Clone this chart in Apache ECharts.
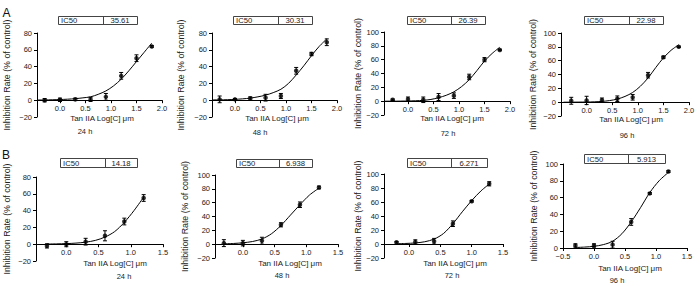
<!DOCTYPE html>
<html>
<head>
<meta charset="utf-8">
<script src="https://cdn.jsdelivr.net/npm/echarts@6/dist/echarts.min.js"></script>
<style>
html,body{margin:0;padding:0;background:#fff;}
#chart{width:700px;height:286px;}
</style>
</head>
<body>
<div id="chart"></div>
<script>
// labels under each panel and the IC50 read-outs
var timeLabels = ['24 h', '48 h', '72 h', '96 h', '24 h', '48 h', '72 h', '96 h'];
var ic50Values = ['35.61', '30.31', '26.39', '22.98', '14.18', '6.938', '6.271', '5.913'];

// log dose of the measured points
var doseA = [-0.3, 0, 0.3, 0.6, 0.9, 1.2, 1.5, 1.8];
var doseB = [-0.3, 0, 0.3, 0.6, 0.9, 1.2];
var doseB72 = [-0.2, 0.1, 0.4, 0.7, 1.0, 1.28];

// mean inhibition rate and SD, row A
var meanA24 = [0, 0.5, 1, 1, 4, 29, 50, 64];
var sdA24 = [2, 2, 1.5, 2.5, 4, 4, 4, 1];
var meanA48 = [1, 1, 2, 3, 5, 35, 55, 69];
var sdA48 = [4, 1, 2, 4, 3, 4, 2, 4];
var meanA72 = [2, 3, 2, 6, 8, 35, 60, 74];
var sdA72 = [1, 3, 4, 5, 4, 4, 3, 1];
var meanA96 = [2, 2.5, 3, 5, 7, 39, 65, 80];
var sdA96 = [5, 6, 3, 4, 4, 4, 1.5, 1];

// row B
var meanB24 = [-2, 0, 3, 10, 27, 55];
var sdB24 = [2.5, 3, 4, 6, 4, 4];
var meanB48 = [1.5, 1.5, 5, 28, 57, 82];
var sdB48 = [5, 4, 5, 3, 4, 2];
var meanB72 = [2.4, 3, 4, 29, 61, 86];
var sdB72 = [1, 3, 4, 4, 1, 3];
var meanB96 = [3, 3, 4, 31, 65, 91];
var sdB96 = [2, 2, 4, 4, 1, 1];

// fitted curves
var fitXA = [-0.45, -0.3, -0.15, 0, 0.15, 0.3, 0.45, 0.6, 0.75, 0.9, 1.05, 1.2, 1.35, 1.5, 1.65, 1.8];
var fitA24 = [0.2, 0.3, 0.5, 0.8, 1.2, 1.8, 2.8, 4, 7, 11, 17, 25, 35, 46, 57, 68];
var fitA48 = [0.3, 0.4, 0.6, 1, 1.6, 2.5, 4, 6, 9, 13, 20, 30, 41, 53, 64, 73];
var fitA72 = [0, 0, 0.1, 0.3, 0.6, 1.2, 2.5, 5, 8.5, 13.5, 21, 31, 44, 58, 69, 78];
var fitA96 = [0, 0, 0.1, 0.2, 0.5, 1.1, 2.3, 4.5, 8.3, 14, 23, 35, 50, 64, 75, 83];
var fitXB = [-0.3, -0.15, 0, 0.15, 0.3, 0.45, 0.6, 0.75, 0.9, 1.05, 1.2];
var fitB24 = [0.2, 0.4, 0.7, 1.3, 2.4, 4.5, 8.5, 15, 26, 40, 56];
var fitB48 = [0.5, 1, 2, 3.8, 7.5, 15, 27, 42, 57, 71, 81];
var fitB96 = [0.6, 1.1, 2, 4, 8, 17, 31, 48, 66, 80, 90];
var fitXB72 = [-0.2, -0.05, 0.1, 0.25, 0.4, 0.55, 0.7, 0.85, 1.0, 1.15, 1.3];
var fitB72 = [0.4, 0.8, 1.5, 3.2, 7, 15, 29, 46, 62, 76, 87];

var panels = [
    {dose: doseA, mean: meanA24, sd: sdA24, fitX: fitXA, fitY: fitA24, xMin: -0.45, xMax: 2, yMin: -20, yMax: 80},
    {dose: doseA, mean: meanA48, sd: sdA48, fitX: fitXA, fitY: fitA48, xMin: -0.45, xMax: 2, yMin: -20, yMax: 80},
    {dose: doseA, mean: meanA72, sd: sdA72, fitX: fitXA, fitY: fitA72, xMin: -0.47, xMax: 2, yMin: -20, yMax: 100},
    {dose: doseA, mean: meanA96, sd: sdA96, fitX: fitXA, fitY: fitA96, xMin: -0.5, xMax: 2, yMin: -20, yMax: 100},
    {dose: doseB, mean: meanB24, sd: sdB24, fitX: fitXB, fitY: fitB24, xMin: -0.47, xMax: 1.5, yMin: -20, yMax: 80},
    {dose: doseB, mean: meanB48, sd: sdB48, fitX: fitXB, fitY: fitB48, xMin: -0.44, xMax: 1.5, yMin: -20, yMax: 100},
    {dose: doseB72, mean: meanB72, sd: sdB72, fitX: fitXB72, fitY: fitB72, xMin: -0.4, xMax: 1.5, yMin: -20, yMax: 100},
    {dose: doseB, mean: meanB96, sd: sdB96, fitX: fitXB, fitY: fitB96, xMin: -0.5, xMax: 1.5, yMin: 0, yMax: 100, minLabel: true}
];

// layout of each panel (pixels)
var grids = [
    {left: 37, top: 33, width: 125, height: 84},
    {left: 212, top: 33, width: 125, height: 84},
    {left: 384, top: 32, width: 126, height: 83},
    {left: 561, top: 33, width: 128, height: 83},
    {left: 36, top: 177, width: 127, height: 84},
    {left: 215, top: 175, width: 123, height: 83},
    {left: 384, top: 174, width: 119, height: 84},
    {left: 563, top: 164, width: 124, height: 84}
];
var yNameX = [6.5, 181, 358, 533, 7, 185, 358, 534];
var xNamePos = [[102, 118], [277, 118], [452, 118], [631, 119], [115, 263], [290, 263], [455, 263], [630, 268]];
var timePos = [[85, 131], [260, 132], [448, 133], [627, 135], [124, 276], [282, 275], [452, 275], [617, 280]];
// IC50 box: x0, x1, divider, y0, y1
var boxes = [
    [58, 137, 103, 16, 24],
    [233, 312, 278, 16, 24],
    [407, 485, 451, 16, 24],
    [584, 663, 629, 16, 24],
    [60, 137, 105, 158, 167],
    [236, 312, 279, 159, 167],
    [407, 487, 451, 158, 167],
    [584, 665, 628, 154, 163]
];

var FONT = 'Liberation Sans, Arial, sans-serif';
var TXT = '#222';

function fmtNum(v, digits) {
    return v.toFixed(digits).replace('-', '\u2212');
}

// x labels only on multiples of 0.5; the axis start is labelled only where the reference does
function makeFmtX(p) {
    return function (v) {
        var k = Math.round(v / 0.5);
        if (Math.abs(k * 0.5 - v) > 1e-6) return '';
        if (Math.abs(v - p.xMin) < 1e-6 && !p.minLabel) return '';
        return fmtNum(v, 1);
    };
}

function errorBar(params, api) {
    var x = api.value(0);
    var lo = api.coord([x, api.value(1)]);
    var hi = api.coord([x, api.value(2)]);
    var w = 2;
    var st = {stroke: '#000', lineWidth: 1};
    return {
        type: 'group',
        children: [
            {type: 'line', shape: {x1: lo[0], y1: lo[1], x2: hi[0], y2: hi[1]}, style: st},
            {type: 'line', shape: {x1: lo[0] - w, y1: lo[1], x2: lo[0] + w, y2: lo[1]}, style: st},
            {type: 'line', shape: {x1: hi[0] - w, y1: hi[1], x2: hi[0] + w, y2: hi[1]}, style: st}
        ]
    };
}

var xAxes = [], yAxes = [], series = [], graphics = [];

panels.forEach(function (p, i) {
    var g = grids[i];
    // x axis sits on y = 0, GraphPad style
    var zeroOffset = -g.height * (0 - p.yMin) / (p.yMax - p.yMin);
    xAxes.push({
        gridIndex: i, type: 'value', min: p.xMin, max: p.xMax,
        minInterval: 0.5, maxInterval: 0.5, offset: zeroOffset,
        axisLine: {onZero: false, lineStyle: {color: '#000', width: 1}},
        axisTick: {show: true, length: 3, lineStyle: {color: '#000'}},
        axisLabel: {fontSize: 7.5, color: TXT, fontFamily: FONT, margin: 4, formatter: makeFmtX(p)},
        splitLine: {show: false}
    });
    yAxes.push({
        gridIndex: i, type: 'value', min: p.yMin, max: p.yMax, interval: 20,
        name: 'Inhibition Rate (% of control)', nameLocation: 'middle',
        nameGap: g.left - yNameX[i] - 4.5,
        nameTextStyle: {fontSize: 8.8, color: TXT, fontFamily: FONT},
        axisLine: {show: true, onZero: false, lineStyle: {color: '#000', width: 1}},
        axisTick: {show: true, length: 3, lineStyle: {color: '#000'}},
        axisLabel: {fontSize: 7.5, color: TXT, fontFamily: FONT, margin: 5,
            formatter: function (v) { return fmtNum(v, 0); }},
        splitLine: {show: false}
    });

    var fit = p.fitX.map(function (x, k) { return [x, p.fitY[k]]; });
    var pts = p.dose.map(function (x, k) { return [x, p.mean[k]]; });
    var bars = p.dose.map(function (x, k) { return [x, p.mean[k] - p.sd[k], p.mean[k] + p.sd[k]]; });

    series.push({
        type: 'line', xAxisIndex: i, yAxisIndex: i, data: fit,
        smooth: 0.3, showSymbol: false, silent: true,
        lineStyle: {color: '#000', width: 1}
    });
    series.push({
        type: 'custom', xAxisIndex: i, yAxisIndex: i, data: bars,
        encode: {x: 0, y: [1, 2]}, renderItem: errorBar, silent: true
    });
    series.push({
        type: 'scatter', xAxisIndex: i, yAxisIndex: i, data: pts,
        symbol: 'circle', symbolSize: 4.5, itemStyle: {color: '#000'}, silent: true
    });

    var b = boxes[i];
    graphics.push({
        type: 'rect', shape: {x: b[0] + 0.5, y: b[3] + 0.5, width: b[1] - b[0], height: b[4] - b[3]},
        style: {fill: '#fff', stroke: '#444', lineWidth: 1}
    });
    graphics.push({
        type: 'line', shape: {x1: b[2] + 0.5, y1: b[3] + 0.5, x2: b[2] + 0.5, y2: b[4] + 0.5},
        style: {stroke: '#444', lineWidth: 1}
    });
    graphics.push({
        type: 'text', x: b[0] + 3, y: (b[3] + b[4]) / 2 + 0.5,
        style: {text: 'IC50', fontSize: 7.7, fontFamily: FONT, fill: TXT, align: 'left', verticalAlign: 'middle'}
    });
    graphics.push({
        type: 'text', x: (b[2] + b[1]) / 2, y: (b[3] + b[4]) / 2 + 0.5,
        style: {text: ic50Values[i], fontSize: 7.7, fontFamily: FONT, fill: TXT, align: 'center', verticalAlign: 'middle'}
    });
    graphics.push({
        type: 'text', x: xNamePos[i][0], y: xNamePos[i][1],
        style: {text: 'Tan IIA Log[C] \u03bcm', fontSize: 8, fontFamily: FONT, fill: TXT, align: 'center', verticalAlign: 'middle'}
    });
    graphics.push({
        type: 'text', x: timePos[i][0], y: timePos[i][1],
        style: {text: timeLabels[i], fontSize: 7.5, fontFamily: FONT, fill: TXT, align: 'center', verticalAlign: 'middle'}
    });
});

graphics.push({type: 'text', x: 6.5, y: 12.5,
    style: {text: 'A', fontSize: 12, fontFamily: FONT, fill: '#111', align: 'center', verticalAlign: 'middle'}});
graphics.push({type: 'text', x: 6, y: 154.5,
    style: {text: 'B', fontSize: 12, fontFamily: FONT, fill: '#111', align: 'center', verticalAlign: 'middle'}});

var myChart = echarts.init(document.getElementById('chart'), null, {renderer: 'svg'});
myChart.setOption({
    animation: false,
    backgroundColor: '#fff',
    grid: grids,
    xAxis: xAxes,
    yAxis: yAxes,
    series: series,
    graphic: graphics
});
</script>
</body>
</html>
